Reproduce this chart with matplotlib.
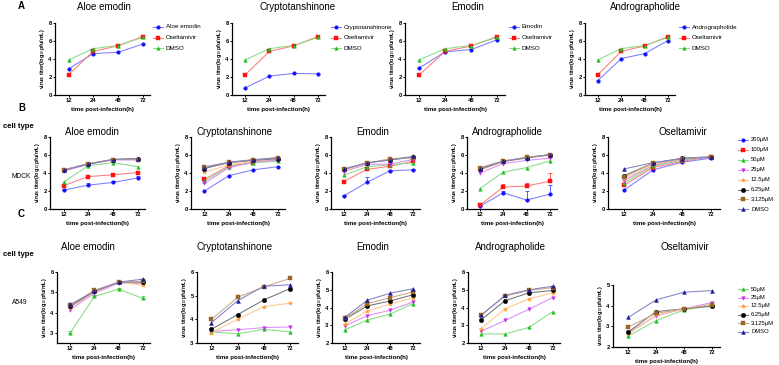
import matplotlib
matplotlib.use('Agg')
import matplotlib.pyplot as plt
from matplotlib.colors import to_rgb

plt.rcParams['font.family'] = ['Liberation Sans', 'DejaVu Sans']

W, H = 779, 365
fig = plt.figure(figsize=(W / 100, H / 100), dpi=100)

times = ['12', '24', '48', '72']

# ---------------- Row A data ----------------
a_aloe = [2.9, 4.6, 4.75, 5.65]
a_crypto = [0.8, 2.1, 2.4, 2.35]
a_emodin = [3.0, 4.8, 5.05, 6.15]
a_andro = [1.6, 4.05, 4.6, 6.05]
a_osel = [2.25, 4.85, 5.45, 6.5]
a_dmso = [3.9, 5.15, 5.5, 6.4]

# ---------------- Row B (MDCK) data ----------------
b_labels = ['200μM', '100μM', '50μM', '25μM', '12.5μM', '6.25μM', '3.125μM', 'DMSO']
mdck_aloe = [[2.1, 2.65, 2.95, 3.45], [2.6, 3.6, 3.8, 4.05], [3.0, 4.8, 5.15, 4.7],
             [4.2, 4.95, 5.45, 5.45], [4.3, 5.05, 5.5, 5.55], [4.35, 5.0, 5.5, 5.6],
             [4.35, 5.05, 5.5, 5.5], [4.3, 5.0, 5.5, 5.6]]
mdck_crypto = [[2.0, 3.7, 4.35, 4.7], [3.3, 4.8, 5.15, 5.55], [3.1, 4.7, 5.15, 5.3],
               [2.85, 4.6, 5.2, 5.45], [4.1, 4.9, 5.3, 5.6], [4.5, 5.15, 5.4, 5.6],
               [4.7, 5.2, 5.5, 5.7], [4.6, 5.2, 5.45, 5.7]]
mdck_emodin = [[1.45, 2.95, 4.25, 4.35], [3.05, 4.4, 4.75, 5.3], [3.75, 4.7, 4.9, 5.15],
               [4.15, 4.95, 5.0, 5.5], [4.3, 5.05, 5.6, 5.75], [4.45, 5.1, 5.45, 5.75],
               [4.4, 5.1, 5.55, 5.7], [4.4, 5.15, 5.45, 5.85]]
mdck_andro = [[0.3, 1.8, 1.0, 1.65], [0.4, 2.45, 2.55, 3.1], [2.25, 4.1, 4.6, 5.35],
              [4.0, 5.05, 5.4, 5.65], [4.3, 5.25, 5.65, 5.95], [4.4, 5.3, 5.7, 6.05],
              [4.6, 5.35, 5.75, 6.0], [4.5, 5.3, 5.7, 6.05]]
mdck_osel = [[2.1, 4.35, 5.2, 5.65], [2.65, 4.6, 5.3, 5.8], [2.9, 4.75, 5.45, 5.8],
             [3.15, 4.85, 5.55, 5.75], [3.35, 4.95, 5.6, 5.8], [3.7, 5.1, 5.65, 5.8],
             [3.55, 5.1, 5.6, 5.8], [4.45, 5.15, 5.6, 5.75]]
mdck_andro_err = [[0.4, 0.2, 1.0, 1.0], [0.3, 0.3, 0.3, 0.85]]
mdck_emodin_err = [0.1, 0.6, 0.1, 0.1]
mdck_aloe_err = [0.1, 0.2, 0.15, 0.25]

# ---------------- Row C (A549) data ----------------
c_labels = ['50μM', '25μM', '12.5μM', '6.25μM', '3.125μM', 'DMSO']
a549_aloe = [[3.0, 4.8, 5.15, 4.7], [4.15, 4.95, 5.45, 5.45], [4.25, 5.0, 5.5, 5.35],
             [4.3, 5.05, 5.5, 5.5], [4.35, 5.1, 5.5, 5.55], [4.4, 5.05, 5.5, 5.65]]
a549_crypto = [[3.47, 3.39, 3.58, 3.47], [3.49, 3.56, 3.65, 3.68], [3.44, 4.0, 4.54, 4.68],
               [3.58, 4.2, 4.82, 5.3], [4.0, 4.93, 5.37, 5.73], [3.86, 4.79, 5.4, 5.46]]
a549_emodin = [[2.74, 3.3, 3.63, 4.22], [2.96, 3.54, 3.85, 4.31], [3.06, 3.81, 4.19, 4.56],
               [3.33, 4.09, 4.37, 4.72], [3.39, 4.22, 4.56, 4.87], [3.44, 4.41, 4.81, 5.06]]
a549_andro = [[2.51, 2.51, 2.88, 3.77], [2.66, 3.27, 3.9, 4.56], [2.81, 3.93, 4.48, 4.83],
              [3.31, 4.38, 4.83, 4.96], [3.59, 4.64, 4.96, 5.12], [3.55, 4.69, 5.0, 5.2]]
a549_osel = [[2.53, 3.28, 3.79, 4.02], [2.7, 3.5, 3.85, 4.15], [2.63, 3.54, 3.85, 4.05],
             [2.73, 3.71, 3.85, 3.97], [2.97, 3.63, 3.85, 4.05], [3.43, 4.28, 4.65, 4.73]]
a549_aloe_err = [[0.1, 0.05, 0.05, 0.1], None, [0.05, 0.05, 0.05, 0.2], None, None, None]

# ---------------- styles ----------------
b_colors = ['#1010ff', '#ff1010', '#20c020', '#c030f0', '#ff9a30', '#000000', '#9a6428', '#1a1a96']
b_markers = ['o', 's', '^', 'v', '*', 'o', 's', '^']
b_ms = [2.6, 2.6, 2.6, 2.6, 3.2, 3.2, 3.2, 2.8]
c_colors = b_colors[2:]
c_markers = b_markers[2:]
c_ms = b_ms[2:]
a_colors = ['#1010ff', '#ff1010', '#20c020']
a_markers = ['o', 's', '^']


def light(c, f=0.45):
    r, g, b = to_rgb(c)
    return (r + (1 - r) * f, g + (1 - g) * f, b + (1 - b) * f)


def add_ax(x0, ytop, x1, ybot):
    return fig.add_axes([x0 / W, 1 - ybot / H, (x1 - x0) / W, (ybot - ytop) / H])


YLAB = 'virus titer(log$_{10}$pfu/mL)'


def style(ax, ylim, yticks):
    for s in ['top', 'right']:
        ax.spines[s].set_visible(False)
    for s in ['left', 'bottom']:
        ax.spines[s].set_linewidth(0.9)
    ax.set_ylim(*ylim)
    ax.set_yticks(yticks)
    ax.set_xticks(range(4))
    ax.set_xticklabels(times)
    ax.set_xlim(-0.55, 3.3)
    ax.tick_params(labelsize=4.2, width=0.7, length=1.6, pad=0.8)
    for t in ax.get_xticklabels() + ax.get_yticklabels():
        t.set_fontweight('bold')
    ax.set_xlabel('time post-infection(h)', fontsize=4.4, fontweight='bold', labelpad=2.5)
    ax.set_ylabel(YLAB, fontsize=3.9, fontweight='bold', labelpad=0.8)


def draw(ax, data, colors, markers, ms, errs=None):
    x = list(range(4))
    for i, y in enumerate(data):
        ax.plot(x, y, color=light(colors[i]), lw=0.75, zorder=2)
        if errs is not None and errs[i] is not None:
            ax.errorbar(x, y, yerr=[[0] * 4, errs[i]], fmt='none', ecolor=light(colors[i], 0.2),
                        elinewidth=0.6, capsize=1.3, capthick=0.6, zorder=2)
        ax.plot(x, y, ls='none', marker=markers[i], ms=ms[i], color=colors[i],
                markeredgewidth=0.3, zorder=3)


def legend(labels, colors, markers, ms, x, y0, dy, fs):
    for i, lab in enumerate(labels):
        yy = y0 + i * dy
        fig.add_artist(plt.Line2D([(x - 5) / W, (x + 5) / W], [1 - yy / H, 1 - yy / H],
                                  color=light(colors[i]), lw=0.75))
        fig.add_artist(plt.Line2D([x / W], [1 - yy / H], marker=markers[i], ms=ms[i],
                                  color=colors[i], ls='none', markeredgewidth=0.3))
        fig.text((x + 8) / W, 1 - yy / H, lab, fontsize=fs, va='center', ha='left')


def ftext(x, y, s, **kw):
    fig.text(x / W, 1 - y / H, s, **kw)


# ---------------- Row A ----------------
a_panels = [('Aloe emodin', a_aloe, 55, 150, 104, 158),
            ('Cryptotanshinone', a_crypto, 232, 325, 298, 336),
            ('Emodin', a_emodin, 405, 505, 468, 514),
            ('Andrographolide', a_andro, 585, 675, 645, 684)]
for name, drug, x0, x1, tx, lx in a_panels:
    ax = add_ax(x0, 23, x1, 95)
    draw(ax, [drug, a_osel, a_dmso], a_colors, a_markers, [2.6, 2.6, 2.6])
    style(ax, (0, 8), [0, 2, 4, 6, 8])
    ftext(tx, 7, name, fontsize=7, ha='center', va='center')
    legend([name, 'Oseltamivir', 'DMSO'], a_colors, a_markers, [2.6, 2.6, 2.6],
           lx, 27, 10.7, 4.5)

ftext(18, 6, 'A', fontsize=7, fontweight='bold', va='center')
ftext(18, 108, 'B', fontsize=7, fontweight='bold', va='center')
ftext(18, 214, 'C', fontsize=7, fontweight='bold', va='center')
ftext(3, 127, 'cell type', fontsize=5.6, fontweight='bold', va='center')
ftext(3, 255, 'cell type', fontsize=5.6, fontweight='bold', va='center')
ftext(12, 177, 'MDCK', fontsize=4.8, va='center')
ftext(12, 302, 'A549', fontsize=4.8, va='center')

# ---------------- Row B ----------------
b_panels = [('Aloe emodin', mdck_aloe, 50, 145, 92),
            ('Cryptotanshinone', mdck_crypto, 191, 285, 235),
            ('Emodin', mdck_emodin, 331, 420, 373),
            ('Andrographolide', mdck_andro, 467, 557, 507),
            ('Oseltamivir', mdck_osel, 608, 720, 683)]
b_errs = {'Aloe emodin': [mdck_aloe_err] + [None] * 7,
          'Emodin': [mdck_emodin_err] + [None] * 7,
          'Andrographolide': mdck_andro_err + [None] * 6}
for name, data, x0, x1, tx in b_panels:
    ax = add_ax(x0, 137, x1, 209)
    draw(ax, data, b_colors, b_markers, b_ms, b_errs.get(name))
    style(ax, (0, 8), [0, 2, 4, 6, 8])
    ftext(tx, 132, name, fontsize=7, ha='center', va='center')
legend(b_labels, b_colors, b_markers, b_ms, 743, 140, 9.9, 4.2)

# ---------------- Row C ----------------
c_panels = [('Aloe emodin', a549_aloe, 57, 150, 88, (2.5, 6), [3, 4, 5, 6], 272, 343, a549_aloe_err),
            ('Cryptotanshinone', a549_crypto, 197, 298, 235, (3, 6), [3, 4, 5, 6], 272, 343, None),
            ('Emodin', a549_emodin, 332, 420, 373, (2, 6), [2, 3, 4, 5, 6], 272, 343, None),
            ('Andrographolide', a549_andro, 468, 560, 510, (2, 6), [2, 3, 4, 5, 6], 272, 343, None),
            ('Oseltamivir', a549_osel, 613, 720, 685, (2, 5), [2, 3, 4, 5], 285, 347, None)]
for name, data, x0, x1, tx, yl, yt, yt0, yb0, errs in c_panels:
    ax = add_ax(x0, yt0, x1, yb0)
    draw(ax, data, c_colors, c_markers, c_ms, errs)
    style(ax, yl, yt)
    ftext(tx, 247, name, fontsize=7, ha='center', va='center')
legend(c_labels, c_colors, c_markers, c_ms, 743, 289, 8.5, 4.2)

fig.savefig('out.png', dpi=100)
